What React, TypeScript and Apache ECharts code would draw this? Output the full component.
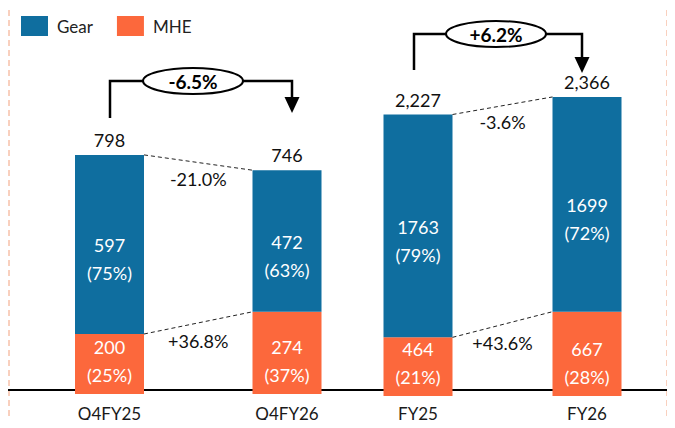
import React, { useEffect, useRef } from "react";
import * as echarts from "echarts";

// Quarter panel
const quarterCategories = ["Q4FY25", "Q4FY26"];
const quarterGear = [597, 472];
const quarterMhe = [200, 274];
const quarterTotal = [798, 746];
const quarterGearShare = [75, 63];
const quarterMheShare = [25, 37];

// Full-year panel
const yearCategories = ["FY25", "FY26"];
const yearGear = [1763, 1699];
const yearMhe = [464, 667];
const yearTotal = [2227, 2366];
const yearGearShare = [79, 72];
const yearMheShare = [21, 28];

// Growth callouts: [quarter, year]
const gearGrowth = ["-21.0%", "-3.6%"];
const mheGrowth = ["+36.8%", "+43.6%"];
const totalGrowth = ["-6.5%", "+6.2%"];

const BLUE = "#0F6E9F";
const ORANGE = "#FC683C";
const FONT = "Lato, 'Open Sans', sans-serif";
const BAR_W = 69;

const fmt = (v: number) => v.toLocaleString("en-US");

function panelSeries(
  idx: number,
  gear: number[],
  mhe: number[],
  total: number[],
  gearShare: number[],
  mheShare: number[]
) {
  const half = BAR_W / 2;
  return [
    {
      name: "MHE",
      type: "bar",
      stack: "s" + idx,
      xAxisIndex: idx,
      yAxisIndex: idx,
      barWidth: BAR_W,
      itemStyle: { color: ORANGE },
      data: mhe,
      label: {
        show: true,
        position: "insideBottom",
        distance: 5,
        color: "#fff",
        fontFamily: FONT,
        fontSize: 18,
        lineHeight: 28,
        formatter: (p: any) => `${p.value}\n(${mheShare[p.dataIndex]}%)`,
      },
      z: 3,
    },
    {
      name: "Gear",
      type: "bar",
      stack: "s" + idx,
      xAxisIndex: idx,
      yAxisIndex: idx,
      barWidth: BAR_W,
      itemStyle: { color: BLUE },
      data: gear,
      label: {
        show: true,
        position: "inside",
        offset: [0, 15],
        color: "#fff",
        fontFamily: FONT,
        fontSize: 18,
        lineHeight: 28,
        formatter: (p: any) => `${p.value}\n(${gearShare[p.dataIndex]}%)`,
      },
      z: 3,
    },
    {
      // totals above each bar, dashed connectors and growth labels between bars
      type: "custom",
      xAxisIndex: idx,
      yAxisIndex: idx,
      silent: true,
      z: 5,
      data: [
        [0, total[0]],
        [1, total[1]],
      ],
      encode: { x: 0, y: 1 },
      renderItem: (params: any, api: any) => {
        const i = api.value(0);
        const children: any[] = [];
        const top = api.coord([i, gear[i] + mhe[i]]);
        children.push({
          type: "text",
          style: {
            text: fmt(total[i]),
            x: top[0],
            y: top[1] - 15,
            align: "center",
            verticalAlign: "middle",
            fill: "#111",
            font: `18px ${FONT}`,
          },
        });
        if (i === 0) {
          const a = api.coord([0, gear[0] + mhe[0]]);
          const b = api.coord([1, gear[1] + mhe[1]]);
          const c = api.coord([0, mhe[0]]);
          const d = api.coord([1, mhe[1]]);
          const dash = { stroke: "#222", lineWidth: 1, lineDash: [4, 3] };
          children.push({
            type: "line",
            shape: { x1: a[0] + half, y1: a[1], x2: b[0] - half, y2: b[1] },
            style: dash,
          });
          children.push({
            type: "line",
            shape: { x1: c[0] + half, y1: c[1], x2: d[0] - half, y2: d[1] },
            style: dash,
          });
          const mx = (a[0] + b[0]) / 2;
          children.push({
            type: "text",
            style: {
              text: gearGrowth[idx],
              x: mx,
              y: (a[1] + b[1]) / 2 + 16,
              align: "center",
              verticalAlign: "middle",
              fill: "#111",
              font: `18px ${FONT}`,
            },
          });
          children.push({
            type: "text",
            style: {
              text: mheGrowth[idx],
              x: mx,
              y: (c[1] + d[1]) / 2 + 18,
              align: "center",
              verticalAlign: "middle",
              fill: "#111",
              font: `18px ${FONT}`,
            },
          });
        }
        return { type: "group", children };
      },
    },
  ];
}

function bracket(
  x1: number,
  x2: number,
  y: number,
  yStart: number,
  yTip: number,
  cx: number,
  text: string
) {
  const stroke = { stroke: "#000", lineWidth: 2.5 };
  const rx = 50;
  return [
    {
      type: "polyline",
      shape: { points: [[x1, yStart], [x1, y], [cx - rx, y]] },
      style: { ...stroke, fill: null },
    },
    {
      type: "polyline",
      shape: { points: [[cx + rx, y], [x2, y], [x2, yTip - 14]] },
      style: { ...stroke, fill: null },
    },
    {
      type: "polygon",
      shape: { points: [[x2 - 7.5, yTip - 16], [x2 + 7.5, yTip - 16], [x2, yTip]] },
      style: { fill: "#000" },
    },
    {
      type: "ellipse",
      shape: { cx, cy: y, rx, ry: 13 },
      style: { fill: "#fff", stroke: "#000", lineWidth: 2 },
    },
    {
      type: "text",
      style: {
        text,
        x: cx,
        y: y,
        align: "center",
        verticalAlign: "middle",
        fill: "#000",
        font: `bold 19px ${FONT}`,
      },
    },
  ];
}

export default function App() {
  const ref = useRef<HTMLDivElement>(null);

  useEffect(() => {
    if (!ref.current) return;
    const chart = echarts.init(ref.current, null, { renderer: "svg" });

    const xAxisBase = {
      type: "category",
      axisLine: { show: false },
      axisTick: { show: false },
      axisLabel: { color: "#1a1a1a", fontFamily: FONT, fontSize: 17 },
    };
    const yAxisBase = {
      type: "value",
      show: false,
      splitLine: { show: false },
    };

    const option: any = {
      animation: false,
      backgroundColor: "#fff",
      legend: {
        left: 16,
        top: 11,
        itemWidth: 27,
        itemHeight: 20,
        itemGap: 24,
        icon: "rect",
        textStyle: { color: "#222", fontFamily: FONT, fontSize: 17, padding: [0, 0, 0, 4] },
        data: [
          { name: "Gear", itemStyle: { color: BLUE } },
          { name: "MHE", itemStyle: { color: ORANGE } },
        ],
      },
      grid: [
        { left: 20.75, width: 355, top: 94, height: 300 },
        { left: 333.5, width: 338, top: 80, height: 316 },
      ],
      xAxis: [
        { ...xAxisBase, gridIndex: 0, data: quarterCategories, axisLabel: { ...xAxisBase.axisLabel, margin: 11 } },
        { ...xAxisBase, gridIndex: 1, data: yearCategories, axisLabel: { ...xAxisBase.axisLabel, margin: 9 } },
      ],
      yAxis: [
        { ...yAxisBase, gridIndex: 0, min: 0, max: 1000 },
        { ...yAxisBase, gridIndex: 1, min: 0, max: 2500 },
      ],
      series: [
        ...panelSeries(0, quarterGear, quarterMhe, quarterTotal, quarterGearShare, quarterMheShare),
        ...panelSeries(1, yearGear, yearMhe, yearTotal, yearGearShare, yearMheShare),
      ],
      graphic: [
        // slide frame
        {
          type: "line",
          z: -1,
          shape: { x1: 9, y1: 0, x2: 9, y2: 428 },
          style: { stroke: "#F3A07C", lineWidth: 1, lineDash: [6, 4] },
        },
        {
          type: "line",
          z: -1,
          shape: { x1: 667, y1: 0, x2: 667, y2: 428 },
          style: { stroke: "#F3A07C", lineWidth: 1, lineDash: [6, 4] },
        },
        {
          type: "rect",
          z: -1,
          shape: { x: 84, y: 0, width: 514, height: 3 },
          style: { fill: BLUE },
        },
        // baseline
        {
          type: "line",
          z: -1,
          shape: { x1: 0, y1: 390, x2: 672, y2: 390 },
          style: { stroke: "#000", lineWidth: 2 },
        },
        ...bracket(110, 292, 81, 118, 113, 193, totalGrowth[0]),
        ...bracket(414, 582, 34, 70, 73, 496, totalGrowth[1]),
      ],
    };

    chart.setOption(option);
    return () => chart.dispose();
  }, []);

  return <div ref={ref} style={{ width: 675, height: 428, margin: -8 }} />;
}
